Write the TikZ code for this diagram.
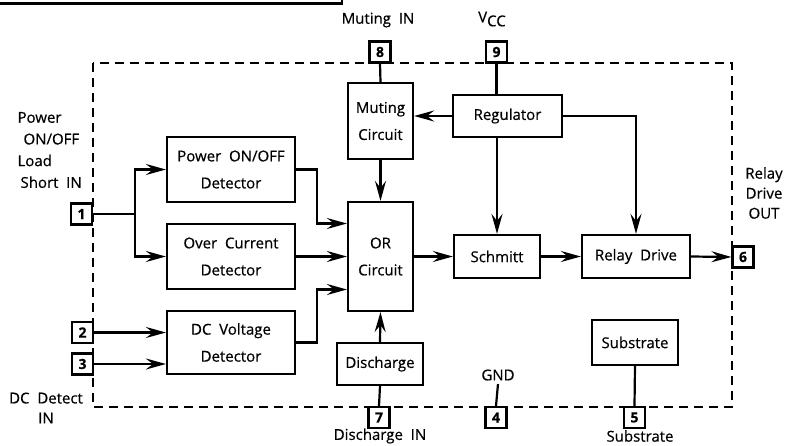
\documentclass[tikz,border=0pt]{standalone}
\usepackage{fontspec}
\setmainfont{Open Sans}[FakeBold=0.5]
\usetikzlibrary{arrows.meta, positioning, calc}
\tikzstyle{block} = [rectangle, draw=black, line width=2.2pt, inner sep=0pt, align=center, font=\fontsize{15pt}{27pt}\selectfont]
\tikzstyle{pinbox} = [rectangle, draw=black, line width=2.2pt, minimum width=21pt, minimum height=21pt, inner sep=0pt, font=\fontsize{14pt}{14pt}\selectfont\bfseries]
\tikzstyle{label} = [align=center, font=\fontsize{15pt}{20pt}\selectfont]
\tikzstyle{wire} = [line width=2.2pt]
\tikzstyle{arrow} = [line width=2.2pt, -{Stealth[length=20pt, width=11pt, inset=7pt]}]

\begin{document}
\begin{tikzpicture}[x=1pt, y=-1pt]
        \useasboundingbox (0,0) rectangle (788,445);
        % leftover edge of the table above
        \draw[line width=2.2pt] (0,3.5) -- (342,3.5) -- (342,0);

        % chip outline
        \draw[line width=2.2pt, dash pattern=on 9pt off 6pt] (93,63) rectangle (732,407);

        % blocks
        \node[block, minimum width=65pt, minimum height=76pt] (muting) at (380.5,121) {Muting\\Circuit};
        \node[block, minimum width=109pt, minimum height=42pt] (reg) at (507.5,116) {Regulator};
        \node[block, minimum width=65pt, minimum height=109pt] (orc) at (380.5,256.5) {OR\\Circuit};
        \node[block, minimum width=86pt, minimum height=43pt] (schmitt) at (497,256.5) {Schmitt};
        \node[block, minimum width=108pt, minimum height=43pt] (relay) at (636,256.5) {Relay\ \ Drive};
        \node[block, minimum width=86pt, minimum height=45pt] (subst) at (635,342.5) {Substrate};
        \node[block, minimum width=86pt, minimum height=42pt] (dischg) at (380,364) {Discharge};
        \node[block, minimum width=128pt, minimum height=65pt] (pwr) at (231,169.5) {Power\ \ ON/OFF\\Detector};
        \node[block, minimum width=128pt, minimum height=65pt] (ocd) at (231,256.5) {Over\ \ Current\\Detector};
        \node[block, minimum width=128pt, minimum height=63pt] (dcv) at (231,342.5) {DC\ \ Voltage\\Detector};

        % pins
        \node[pinbox] (p1) at (81.5,214) {1};
        \node[pinbox] (p2) at (82.5,332.5) {2};
        \node[pinbox] (p3) at (82.5,364) {3};
        \node[pinbox] (p8) at (380,52) {8};
        \node[pinbox] (p9) at (496.5,52) {9};
        \node[pinbox] (p6) at (743,257) {6};
        \node[pinbox] (p7) at (379,417.5) {7};
        \node[pinbox] (p4) at (496,417.5) {4};
        \node[pinbox] (p5) at (634.5,417.5) {5};

        % pin labels
        \node[label] (lmute) at (378,20) {Muting\ \ IN};
        \node[label] (lvcc) at (492,19) {V\raisebox{-4pt}{CC}};
        \node[label, align=left, anchor=west, font=\fontsize{15pt}{21.7pt}\selectfont] (lpwr) at (14,150) {Power\\\hspace{6pt}ON/OFF\\Load\\\hspace{3pt}Short\ \ IN};
        \node[label] (ldc) at (46,408) {DC\ \ Detect\\IN};
        \node[label] (lrelay) at (764,193) {Relay\\Drive\\OUT};
        \node[label] (lgnd) at (498,375) {GND};
        \node[label] (ldis) at (380,436) {Discharge\ \ IN};
        \node[label] (lsub) at (640,436) {Substrate};

        % connections
        \coordinate (split) at (135,214);
        \draw[wire] (p1.east) -- (split);
        \draw[arrow] (split) |- (pwr.west);
        \draw[arrow] (split) |- (ocd.west);
        \draw[arrow] (p2.east) -- (dcv.west |- p2.east);
        \draw[arrow] (p3.east) -- (dcv.west |- p3.east);
        \draw[arrow] (pwr.east) -- ++(21,0) |- ([yshift=33pt]orc.west);
        \draw[arrow] (ocd.east) -- (orc.west);
        \draw[arrow] (dcv.east) -- ++(21,0) |- ([yshift=-33pt]orc.west);
        \draw[wire] (p8.south) -- (muting.north);
        \draw[wire] (p9.south) -- (p9.south |- reg.north);
        \draw[arrow] (reg.west) -- (muting.east |- reg.west);
        \draw[arrow] (reg.east) -| (relay.north);
        \draw[arrow] (reg.south -| schmitt.north) -- (schmitt.north);
        \draw[arrow] (muting.south) -- (orc.north);
        \draw[arrow] (dischg.north) -- (orc.south);
        \draw[wire] (p7.north) -- (dischg.south);
        \draw[arrow] (orc.east) -- (schmitt.west);
        \draw[arrow] (schmitt.east) -- (relay.west);
        \draw[arrow] (relay.east) -- (p6.west);
        \draw[wire] (subst.south) -- (p5.north);
        \draw[wire] (p4.north) -- (lgnd.south);
    \end{tikzpicture}
\end{document}
